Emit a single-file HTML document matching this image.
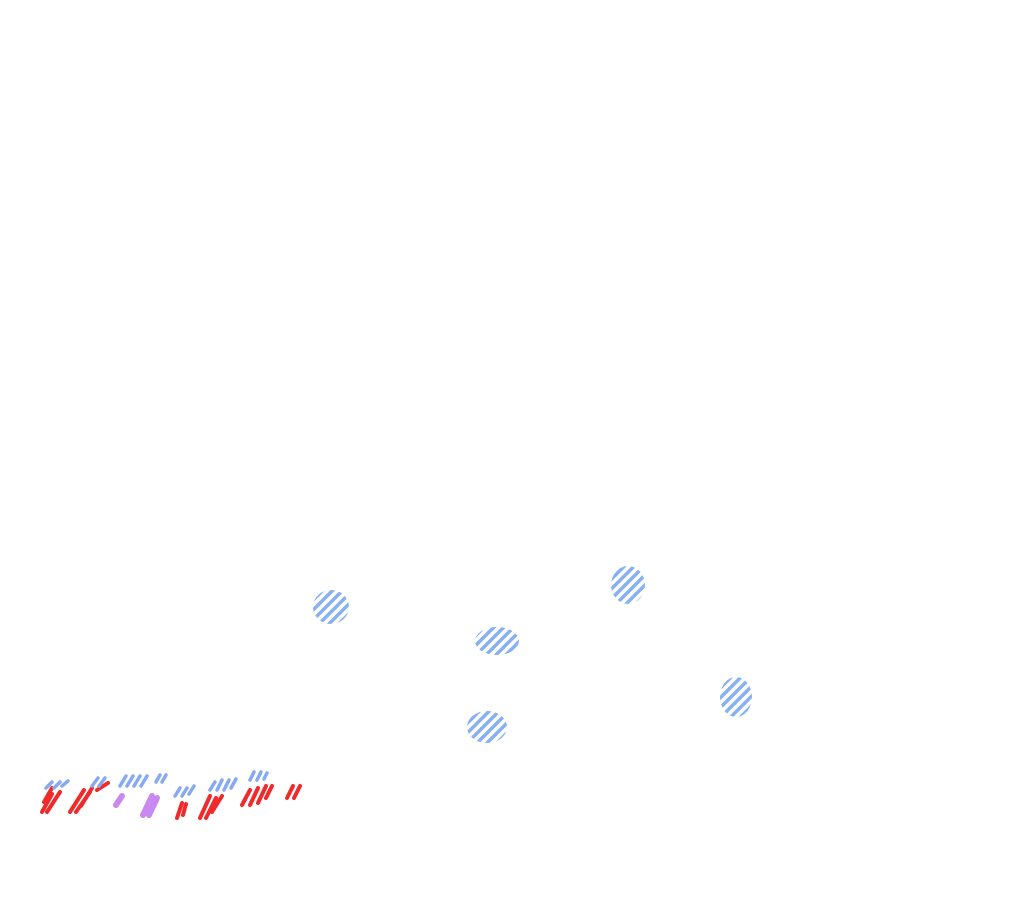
<!DOCTYPE html>
<html><head><meta charset="utf-8"><style>html,body{margin:0;padding:0;background:#fff;width:1024px;height:913px;overflow:hidden}</style></head>
<body>
<svg width="1024" height="913" viewBox="0 0 1024 913" xmlns="http://www.w3.org/2000/svg">
<defs>
<pattern id="hb" width="7" height="7" patternUnits="userSpaceOnUse" patternTransform="rotate(45)">
<rect x="0" y="0" width="3.5" height="7" fill="#7aa8f0"/>
</pattern>
</defs>
<g fill="url(#hb)" opacity="0.9">
<ellipse cx="331" cy="607" rx="18" ry="17"/>
<ellipse cx="497" cy="641" rx="22" ry="14"/>
<ellipse cx="628" cy="585" rx="17" ry="19"/>
<ellipse cx="487" cy="727" rx="20" ry="16"/>
<ellipse cx="736" cy="697" rx="16" ry="20"/>
</g>
<g stroke-linecap="round" stroke-width="4">
<g stroke="#f02a2a">
<line x1="42" y1="812" x2="52" y2="794"/><line x1="47" y1="812" x2="60" y2="792"/><line x1="44" y1="802" x2="52" y2="788"/>
<line x1="70" y1="812" x2="84" y2="790"/><line x1="76" y1="812" x2="90" y2="792"/><line x1="81" y1="806" x2="92" y2="788"/><line x1="97" y1="790" x2="108" y2="783"/>
<line x1="177" y1="818" x2="182" y2="803"/><line x1="183" y1="815" x2="186" y2="804"/>
<line x1="200" y1="818" x2="210" y2="796"/><line x1="206" y1="818" x2="216" y2="798"/><line x1="212" y1="812" x2="222" y2="796"/>
<line x1="242" y1="805" x2="250" y2="790"/><line x1="250" y1="805" x2="258" y2="788"/><line x1="258" y1="803" x2="266" y2="786"/><line x1="266" y1="798" x2="272" y2="786"/>
<line x1="287" y1="798" x2="293" y2="786"/><line x1="294" y1="798" x2="300" y2="786"/>
</g>
<g stroke="#c88af0" stroke-width="6">
<line x1="116" y1="805" x2="122" y2="796"/>
<line x1="143" y1="815" x2="152" y2="796"/><line x1="149" y1="815" x2="157" y2="798"/>
</g>
<g stroke="#86aaf2" stroke-width="3.5">
<line x1="46" y1="788" x2="52" y2="782"/><line x1="54" y1="788" x2="60" y2="782"/><line x1="62" y1="786" x2="68" y2="781"/>
<line x1="92" y1="786" x2="98" y2="778"/><line x1="99" y1="786" x2="105" y2="778"/>
<line x1="120" y1="786" x2="126" y2="776"/><line x1="127" y1="786" x2="133" y2="776"/><line x1="134" y1="786" x2="140" y2="776"/><line x1="141" y1="786" x2="147" y2="776"/><line x1="156" y1="782" x2="160" y2="775"/><line x1="162" y1="782" x2="166" y2="775"/>
<line x1="175" y1="796" x2="180" y2="788"/><line x1="182" y1="796" x2="187" y2="788"/><line x1="189" y1="794" x2="194" y2="786"/>
<line x1="210" y1="790" x2="215" y2="782"/><line x1="217" y1="790" x2="222" y2="780"/><line x1="224" y1="790" x2="229" y2="780"/><line x1="231" y1="788" x2="236" y2="779"/>
<line x1="250" y1="780" x2="254" y2="772"/><line x1="257" y1="780" x2="261" y2="772"/><line x1="264" y1="779" x2="267" y2="773"/>
</g>
</g>
</svg>
</body></html>
